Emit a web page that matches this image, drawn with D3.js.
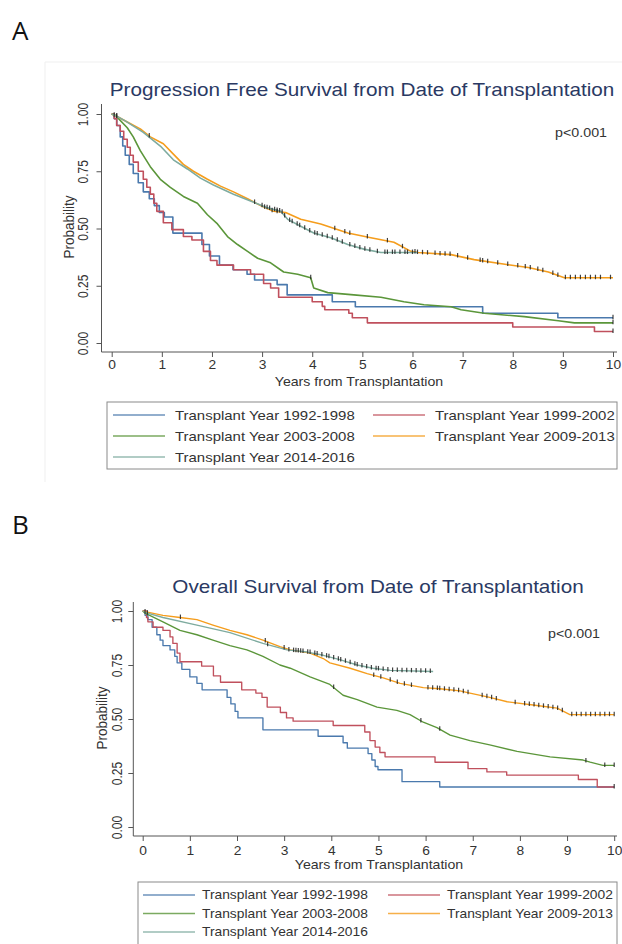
<!DOCTYPE html>
<html lang="en">
<head>
<meta charset="UTF-8">
<title>Progression Free and Overall Survival by Transplant Year</title>
<script src="https://d3js.org/d3.v7.min.js"></script>
<style>
  body { margin: 0; background: #fff; }
  svg { display: block; font-family: "Liberation Sans", Arial, sans-serif; }
  .tick text { fill: #333; }
  .tick line { stroke: #555; }
</style>
</head>
<body>
<div id="chart"></div>
<script>
// ---- data ----
const years = [0, 1, 2, 3, 4, 5, 6, 7, 8, 9, 10];
const probTicks = [0, 0.25, 0.5, 0.75, 1];
const probLabels = ["0.00", "0.25", "0.50", "0.75", "1.00"];
const groups = ["Transplant Year 1992-1998", "Transplant Year 1999-2002",
  "Transplant Year 2003-2008", "Transplant Year 2009-2013", "Transplant Year 2014-2016"];

// Progression free survival [years, probability]
const pfs1992 = [[0,1],[0.05,0.98],[0.1,0.95],[0.17,0.9],[0.22,0.86],[0.27,0.82],[0.35,0.78],[0.43,0.74],
  [0.53,0.7],[0.63,0.66],[0.75,0.63],[0.85,0.6],[0.95,0.57],[1.05,0.55],[1.22,0.48],[1.8,0.43],[1.95,0.38],
  [2.15,0.34],[2.42,0.32],[2.7,0.3],[2.85,0.275],[3.3,0.255],[3.5,0.21],[4.4,0.18],[4.86,0.158],[7.4,0.13],
  [8.9,0.11],[10,0.11]];
const pfs1999 = [[0,1],[0.05,0.98],[0.1,0.95],[0.17,0.925],[0.24,0.89],[0.31,0.855],[0.37,0.82],[0.43,0.79],
  [0.53,0.75],[0.63,0.715],[0.7,0.68],[0.77,0.65],[0.84,0.61],[0.9,0.575],[1.03,0.525],[1.2,0.495],[1.43,0.465],
  [1.6,0.45],[1.83,0.4],[1.97,0.36],[2.1,0.34],[2.43,0.32],[2.77,0.3],[3.03,0.26],[3.17,0.24],[3.33,0.2],
  [4.0,0.18],[4.2,0.16],[4.25,0.145],[4.73,0.13],[4.8,0.11],[5.1,0.088],[8.0,0.07],[9.63,0.05],[10,0.05]];
const pfs2003 = [[0,1],[0.07,0.995],[0.31,0.94],[0.43,0.9],[0.57,0.84],[0.77,0.77],[0.97,0.715],[1.17,0.68],
  [1.43,0.64],[1.71,0.61],[1.91,0.56],[2.11,0.52],[2.31,0.465],[2.51,0.43],[2.71,0.4],[2.91,0.37],[3.17,0.35],
  [3.43,0.31],[3.71,0.3],[3.97,0.285],[4.03,0.24],[4.31,0.22],[4.83,0.21],[5.37,0.2],[5.83,0.18],[6.23,0.167],
  [6.77,0.158],[6.97,0.145],[7.43,0.13],[8.23,0.115],[8.91,0.097],[9.23,0.088],[10,0.088]];
const pfs2009 = [[0,1],[0.1,0.99],[0.31,0.965],[0.57,0.935],[0.77,0.9],[1.03,0.87],[1.23,0.825],[1.43,0.78],
  [1.63,0.75],[1.91,0.715],[2.17,0.685],[2.43,0.66],[2.71,0.63],[2.97,0.6],[3.23,0.575],[3.47,0.57],[3.77,0.54],
  [4.17,0.52],[4.71,0.48],[5.17,0.46],[5.63,0.44],[5.97,0.4],[6.11,0.395],[6.77,0.386],[7.23,0.364],[7.91,0.342],
  [8.31,0.33],[8.71,0.31],[9.03,0.285],[10,0.285]];
const pfs2014 = [[0,1],[0.1,0.99],[0.27,0.97],[0.63,0.92],[0.97,0.86],[1.23,0.8],[1.51,0.76],[1.77,0.72],
  [2.03,0.69],[2.43,0.65],[2.77,0.62],[3.11,0.59],[3.37,0.575],[3.51,0.54],[3.77,0.51],[4.03,0.48],[4.37,0.46],
  [4.71,0.43],[5.03,0.41],[5.37,0.395],[6.11,0.395]];

// Overall survival [years, probability]
const os1992 = [[0,1],[0.05,0.98],[0.11,0.96],[0.2,0.925],[0.3,0.89],[0.37,0.865],[0.43,0.84],[0.58,0.82],
  [0.68,0.79],[0.73,0.76],[0.83,0.73],[1.0,0.695],[1.15,0.665],[1.26,0.635],[1.79,0.6],[1.87,0.57],[1.96,0.535],
  [2.02,0.505],[2.55,0.45],[3.72,0.42],[4.25,0.39],[4.34,0.365],[4.78,0.34],[4.86,0.31],[4.93,0.28],[4.99,0.265],
  [5.5,0.21],[6.3,0.185],[10,0.185]];
const os1999 = [[0,1],[0.08,0.97],[0.11,0.95],[0.22,0.925],[0.43,0.91],[0.58,0.88],[0.64,0.85],[0.73,0.805],
  [0.79,0.765],[1.25,0.745],[1.5,0.7],[1.65,0.67],[2.1,0.635],[2.4,0.62],[2.53,0.6],[2.64,0.555],[2.92,0.53],
  [3.05,0.505],[3.19,0.49],[4.04,0.47],[4.71,0.44],[4.82,0.4],[4.93,0.37],[5.03,0.345],[5.14,0.325],[6.2,0.3],
  [6.9,0.27],[7.3,0.255],[7.72,0.24],[9.24,0.22],[9.64,0.185],[10,0.185]];
const os2003 = [[0,1],[0.05,0.99],[0.43,0.95],[0.79,0.91],[1.15,0.89],[1.49,0.865],[1.85,0.84],[2.21,0.82],
  [2.55,0.79],[2.91,0.75],[3.13,0.735],[3.55,0.695],[3.97,0.66],[4.25,0.61],[4.55,0.59],[4.97,0.555],[5.39,0.54],
  [5.67,0.52],[5.95,0.485],[6.24,0.46],[6.52,0.425],[6.94,0.4],[7.36,0.38],[7.94,0.35],[8.64,0.325],[9.34,0.31],
  [9.49,0.3],[9.76,0.285],[10,0.285]];
const os2009 = [[0,1],[0.1,0.995],[0.43,0.98],[0.79,0.97],[1.15,0.96],[1.49,0.935],[1.85,0.91],[2.21,0.89],
  [2.55,0.865],[2.91,0.835],[3.13,0.82],[3.55,0.805],[3.83,0.78],[3.97,0.76],[4.4,0.735],[4.76,0.71],[5.1,0.69],
  [5.46,0.665],[5.95,0.645],[6.3,0.64],[6.73,0.63],[6.94,0.62],[7.36,0.6],[7.73,0.58],[8.28,0.565],[8.79,0.55],
  [9.06,0.52],[10,0.52]];
const os2014 = [[0,1],[0.1,0.99],[0.43,0.97],[1.15,0.935],[1.85,0.9],[2.55,0.85],[3.06,0.82],[3.49,0.81],
  [3.83,0.795],[4.18,0.775],[4.55,0.75],[4.88,0.735],[5.25,0.725],[6.16,0.72]];

// censoring times (years)
const pfsCens1992 = [10];
const pfsCens1999 = [10];
const pfsCens2003 = [3.97, 10];
const pfsCens2009 = [0.05, 0.1, 0.75, 2.85, 3.05, 3.2, 3.3, 3.4, 4.45, 4.65, 4.75, 5.1, 5.5, 5.8, 6.05, 6.2, 6.3,
  6.45, 6.55, 6.65, 6.75, 6.9, 7.1, 7.35, 7.4, 7.5, 7.7, 7.9, 8.1, 8.25, 8.35, 8.5, 8.6, 8.8, 8.9, 9.05, 9.15,
  9.25, 9.35, 9.45, 9.55, 9.65, 9.75, 9.95];
const pfsCens2014 = [0.1, 3.0, 3.1, 3.15, 3.25, 3.3, 3.35, 3.45, 3.55, 3.6, 3.7, 3.75, 3.85, 3.95, 4.05, 4.1, 4.2,
  4.3, 4.4, 4.5, 4.6, 4.75, 4.85, 4.95, 5.05, 5.15, 5.3, 5.45, 5.5, 5.6, 5.65, 5.75, 5.85, 5.9, 6.0, 6.1];
const osCens1992 = [];
const osCens1999 = [10];
const osCens2003 = [4.05, 5.9, 6.3, 9.4, 9.8, 10];
const osCens2009 = [0.8, 2.6, 3.0, 4.9, 5.05, 5.25, 5.4, 5.55, 5.7, 6.05, 6.15, 6.25, 6.3, 6.4, 6.5, 6.6, 6.7,
  6.8, 6.9, 7.2, 7.3, 7.4, 7.5, 7.9, 8.1, 8.2, 8.3, 8.4, 8.5, 8.6, 8.7, 8.8, 8.9, 9.1, 9.2, 9.3, 9.4, 9.5, 9.6,
  9.7, 9.8, 9.9, 10];
const osCens2014 = [0.05, 0.1, 2.65, 3.1, 3.2, 3.25, 3.3, 3.35, 3.4, 3.5, 3.55, 3.65, 3.7, 3.8, 3.9, 3.95, 4.05,
  4.15, 4.2, 4.3, 4.4, 4.5, 4.55, 4.65, 4.75, 4.85, 4.95, 5.0, 5.1, 5.2, 5.3, 5.4, 5.5, 5.6, 5.7, 5.8, 5.9, 6.0, 6.1];

// ---- drawing ----
const SX = 1.15; // the source picture is stretched sideways
const colors = ["#4a79ad", "#c0505d", "#5b963a", "#f59d1c", "#7eab9f"];
const stepped = [true, true, false, false, false];

const svg = d3.select("#chart").append("svg").attr("width", 622).attr("height", 944);

function stext(sel, x, y, str, rot) {
  return sel.append("text")
    .attr("transform", `translate(${x},${y}) scale(${SX},1)` + (rot ? " rotate(-90)" : ""))
    .text(str);
}

function valueAt(data, t, step) {
  let i = d3.bisector(d => d[0]).right(data, t) - 1;
  if (i < 0) i = 0;
  if (step || i >= data.length - 1) return data[i][1];
  const a = data[i], b = data[i + 1];
  return a[1] + (b[1] - a[1]) * (t - a[0]) / (b[0] - a[0]);
}

function panel(p) {
  const g = svg.append("g");
  const x = d3.scaleLinear().domain([0, 10]).range([p.x0, p.x10]);
  const y = d3.scaleLinear().domain([0, 1]).range([p.y0, p.y1]);

  if (p.frame) {
    // faint outline of the graph region (top and left edges only show)
    g.append("path").attr("d", `M${p.frame[0]},${p.frame[1] + p.frame[3]}V${p.frame[1]}H622`)
      .attr("fill", "none").attr("stroke", "#efefef");
  }

  // title
  stext(g, p.titleX, p.titleY, p.title)
    .attr("text-anchor", "middle").attr("font-size", 18).attr("fill", "#2a3963");

  // axes
  const xa = g.append("g").attr("transform", `translate(0,${p.axisY})`)
    .call(d3.axisBottom(x).tickValues(years).tickSize(5).tickPadding(p.xPad));
  xa.select(".domain").remove();
  xa.selectAll(".tick text").attr("font-size", 12).attr("transform", `scale(${SX},1)`);

  const ya = g.append("g").attr("transform", `translate(${p.axisX},0)`)
    .call(d3.axisLeft(y).tickValues(probTicks).tickFormat((d, i) => probLabels[i]).tickSize(5));
  ya.select(".domain").remove();
  ya.selectAll(".tick text")
    .attr("x", null).attr("dy", null).attr("text-anchor", "middle").attr("font-size", 12)
    .attr("transform", `translate(${p.yLabX},0) scale(${SX},1) rotate(-90)`);

  g.append("line").attr("x1", p.axisX).attr("x2", p.axisX).attr("y1", p.axisTop).attr("y2", p.axisY)
    .attr("stroke", "#555");
  g.append("line").attr("x1", p.axisX).attr("x2", 617).attr("y1", p.axisY).attr("y2", p.axisY)
    .attr("stroke", "#555");

  stext(g, p.probX, p.probY, "Probability", true)
    .attr("text-anchor", "middle").attr("font-size", 13.5).attr("fill", "#333");
  stext(g, p.yearsX, p.yearsY, "Years from Transplantation")
    .attr("text-anchor", "middle").attr("font-size", 12.3).attr("fill", "#333");
  stext(g, p.pX, p.pY, "p<0.001")
    .attr("text-anchor", "end").attr("font-size", 12.4).attr("fill", "#333");

  // curves
  p.series.forEach((s, i) => {
    const line = d3.line().x(d => x(d[0])).y(d => y(d[1]))
      .curve(stepped[i] ? d3.curveStepAfter : d3.curveLinear);
    g.append("path").datum(s).attr("d", line)
      .attr("fill", "none").attr("stroke", colors[i]).attr("stroke-width", p.lw)
      .attr("stroke-linejoin", "round");
  });

  // censor marks
  p.cens.forEach((c, i) => {
    g.selectAll(null).data(c).enter().append("line")
      .attr("x1", d => x(d)).attr("x2", d => x(d))
      .attr("y1", d => y(valueAt(p.series[i], d, stepped[i])) - 3)
      .attr("y2", d => y(valueAt(p.series[i], d, stepped[i])) + 1.5)
      .attr("stroke", "#222").attr("stroke-width", 1.2).attr("opacity", 0.85);
  });

  // legend
  const L = p.legend;
  g.append("rect").attr("x", L.x).attr("y", L.y).attr("width", L.w).attr("height", L.h)
    .attr("fill", "none").attr("stroke", "#8a8a8a");
  groups.forEach((name, i) => {
    const col = i % 2, row = Math.floor(i / 2);
    const lx = col ? L.c2 : L.c1;
    const ly = L.rows[row];
    g.append("line").attr("x1", lx).attr("x2", lx + 52).attr("y1", ly).attr("y2", ly)
      .attr("stroke", colors[i]).attr("stroke-width", 1.4).attr("opacity", 0.8);
    stext(g, lx + L.gap, ly + L.fs * 0.35, name).attr("font-size", L.fs).attr("fill", "#333");
  });
}

panel({
  x0: 111.7, x10: 613, y0: 343, y1: 114, axisX: 101.5, axisY: 352, axisTop: 104, xPad: 3,
  yLabX: -13.5, frame: [45, 62, 577, 420],
  title: "Progression Free Survival from Date of Transplantation", titleX: 362, titleY: 96,
  probX: 74, probY: 227, yearsX: 359, yearsY: 386, pX: 607, pY: 137, lw: 1.6,
  series: [pfs1992, pfs1999, pfs2003, pfs2009, pfs2014],
  cens: [pfsCens1992, pfsCens1999, pfsCens2003, pfsCens2009, pfsCens2014],
  legend: { x: 107, y: 402, w: 510, h: 67, c1: 113, c2: 373, gap: 62, fs: 13, rows: [415, 436, 457] }
});

panel({
  x0: 142.7, x10: 614.2, y0: 827, y1: 611, axisX: 133.3, axisY: 836, axisTop: 602, xPad: 5,
  yLabX: -11.5, frame: null,
  title: "Overall Survival from Date of Transplantation", titleX: 378, titleY: 593,
  probX: 107, probY: 718, yearsX: 379, yearsY: 869, pX: 600, pY: 638, lw: 1.35,
  series: [os1992, os1999, os2003, os2009, os2014],
  cens: [osCens1992, osCens1999, osCens2003, osCens2009, osCens2014],
  legend: { x: 138, y: 882, w: 479, h: 70, c1: 143, c2: 388, gap: 59, fs: 12, rows: [895, 913.5, 932] }
});

svg.append("text").attr("x", 12).attr("y", 40).attr("font-size", 26)
  .attr("font-family", "'Open Sans', sans-serif").attr("fill", "#111").text("A");
svg.append("text").attr("x", 12).attr("y", 534).attr("font-size", 26)
  .attr("font-family", "'Open Sans', sans-serif").attr("fill", "#111").text("B");
</script>
</body>
</html>
